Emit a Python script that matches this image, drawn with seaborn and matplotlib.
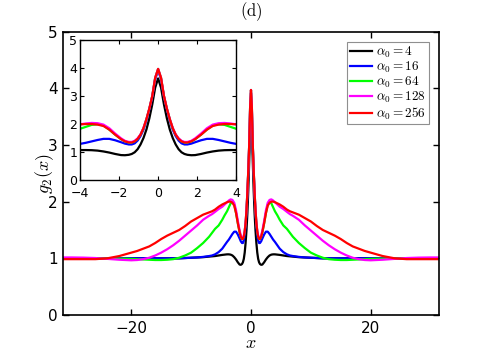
import numpy as np
import pandas as pd
import matplotlib
matplotlib.use("Agg")
import matplotlib.pyplot as plt
import seaborn as sns

# half-profile positions (curves are symmetric about x = 0)
x_half = [0, 0.15, 0.3, 0.45, 0.6, 0.75, 0.9, 1.05, 1.2, 1.35, 1.5, 1.7, 1.9, 2.2, 2.5,
          2.8, 3.1, 3.4, 3.7, 4.0, 4.4, 4.8, 5.4, 6.0, 6.5, 7.0, 8.0, 9.0, 10, 11, 12,
          13, 14, 15, 16, 17, 18, 19, 20, 22, 24, 26, 28, 30, 31.5]

g2_a4 = [3.63, 3.30, 2.70, 2.20, 1.80, 1.50, 1.27, 1.10, 0.99, 0.93, 0.90, 0.885, 0.89, 0.93, 0.98,
         1.02, 1.05, 1.065, 1.07, 1.07, 1.065, 1.06, 1.05, 1.04, 1.035, 1.03, 1.02, 1.015, 1.01, 1.005, 1.0,
         1.0, 1.0, 1.0, 1.0, 1.0, 1.0, 1.0, 1.0, 1.0, 1.0, 1.0, 1.0, 1.0, 1.0]
g2_a16 = [3.92, 3.60, 2.97, 2.52, 2.13, 1.80, 1.57, 1.41, 1.31, 1.27, 1.27, 1.30, 1.35, 1.42, 1.47,
          1.47, 1.43, 1.38, 1.33, 1.29, 1.23, 1.17, 1.11, 1.07, 1.05, 1.04, 1.025, 1.015, 1.01, 1.005, 1.0,
          1.0, 1.0, 1.0, 1.0, 1.0, 1.0, 1.0, 1.0, 1.0, 1.0, 1.0, 1.0, 1.0, 1.0]
g2_a64 = [3.97, 3.65, 3.00, 2.55, 2.17, 1.85, 1.62, 1.47, 1.38, 1.34, 1.34, 1.38, 1.46, 1.62, 1.80,
          1.95, 1.99, 1.97, 1.90, 1.83, 1.76, 1.68, 1.58, 1.52, 1.45, 1.38, 1.27, 1.18, 1.10, 1.05, 1.01,
          0.985, 0.975, 0.97, 0.97, 0.975, 0.98, 0.985, 0.99, 0.995, 1.0, 1.0, 1.0, 1.0, 1.0]
g2_a128 = [3.97, 3.65, 3.00, 2.55, 2.17, 1.86, 1.63, 1.49, 1.40, 1.36, 1.36, 1.40, 1.49, 1.66, 1.85,
           1.98, 2.03, 2.04, 2.02, 1.99, 1.95, 1.91, 1.87, 1.82, 1.78, 1.75, 1.68, 1.58, 1.49, 1.40, 1.31,
           1.23, 1.16, 1.10, 1.05, 1.01, 0.985, 0.97, 0.965, 0.975, 0.99, 1.005, 1.012, 1.015, 1.015]
g2_a256 = [3.97, 3.65, 3.00, 2.55, 2.17, 1.85, 1.62, 1.47, 1.38, 1.34, 1.34, 1.38, 1.46, 1.62, 1.80,
           1.93, 1.98, 2.00, 2.00, 1.99, 1.97, 1.95, 1.91, 1.86, 1.83, 1.81, 1.77, 1.71, 1.65, 1.57, 1.50,
           1.45, 1.40, 1.34, 1.27, 1.21, 1.17, 1.13, 1.10, 1.04, 1.00, 0.985, 0.985, 0.985, 0.985]

labels = [r"$\alpha_0 = 4$", r"$\alpha_0 = 16$", r"$\alpha_0 = 64$",
          r"$\alpha_0 = 128$", r"$\alpha_0 = 256$"]
colors = ["#000000", "#0000ff", "#00ff00", "#ff00ff", "#ff0000"]
series = [g2_a4, g2_a16, g2_a64, g2_a128, g2_a256]


def mirror(xs, ys):
    xs = np.asarray(xs, float)
    ys = np.asarray(ys, float)
    return (np.concatenate([-xs[::-1], xs[1:]]),
            np.concatenate([ys[::-1], ys[1:]]))


frames = []
for lab, ys in zip(labels, series):
    xf, yf = mirror(x_half, ys)
    frames.append(pd.DataFrame({"x": xf, "g2": yf, "label": lab}))
df = pd.concat(frames, ignore_index=True)
palette = dict(zip(labels, colors))

plt.rcParams["mathtext.fontset"] = "cm"
plt.rcParams["font.family"] = ["DejaVu Sans"]

fig = plt.figure(figsize=(4.85, 3.55), dpi=100)
ax = fig.add_axes([0.130, 0.1127, 0.775, 0.7983])

sns.lineplot(data=df, x="x", y="g2", hue="label", hue_order=labels, palette=palette,
             estimator=None, sort=False, linewidth=1.6, ax=ax, legend=True)
ax.set_xlim(-31.4, 31.4)
ax.set_ylim(0, 5)
ax.set_xticks([-20, 0, 20])
ax.set_yticks([0, 1, 2, 3, 4, 5])
ax.tick_params(direction="in", length=4, width=1.0, labelsize=11, top=True, right=True, pad=4)
for s in ax.spines.values():
    s.set_linewidth(1.2)
ax.set_xlabel(r"$x$", fontsize=13, labelpad=-1)
ax.set_ylabel(r"$g_2(x)$", fontsize=13, labelpad=-6)
fig.text(0.5175, 0.967, r"$\mathrm{(d)}$", ha="center", va="center", fontsize=12)

handles, _ = ax.get_legend_handles_labels()
leg = ax.legend(handles, labels, loc="upper right", bbox_to_anchor=(0.8845, 0.8825),
                bbox_transform=fig.transFigure, fontsize=9.5, frameon=True, fancybox=False,
                handlelength=1.7, handletextpad=0.3, labelspacing=0.0, borderpad=0.2,
                borderaxespad=0)
leg.get_frame().set_edgecolor("0.45")
leg.get_frame().set_linewidth(0.8)

ins = fig.add_axes([0.165, 0.493, 0.322, 0.394])
sns.lineplot(data=df, x="x", y="g2", hue="label", hue_order=labels, palette=palette,
             estimator=None, sort=False, linewidth=1.6, ax=ins, legend=False)
ins.set_xlim(-4, 4)
ins.set_ylim(0, 5)
ins.set_xticks([-4, -2, 0, 2, 4])
ins.set_yticks([0, 1, 2, 3, 4, 5])
ins.tick_params(direction="in", length=3, width=0.8, labelsize=9, top=True, right=True, pad=2)
ins.tick_params(axis="x", pad=5)
ins.set_xlabel("")
ins.set_ylabel("")
for s in ins.spines.values():
    s.set_linewidth(1.0)

fig.savefig("out.png", dpi=100)
